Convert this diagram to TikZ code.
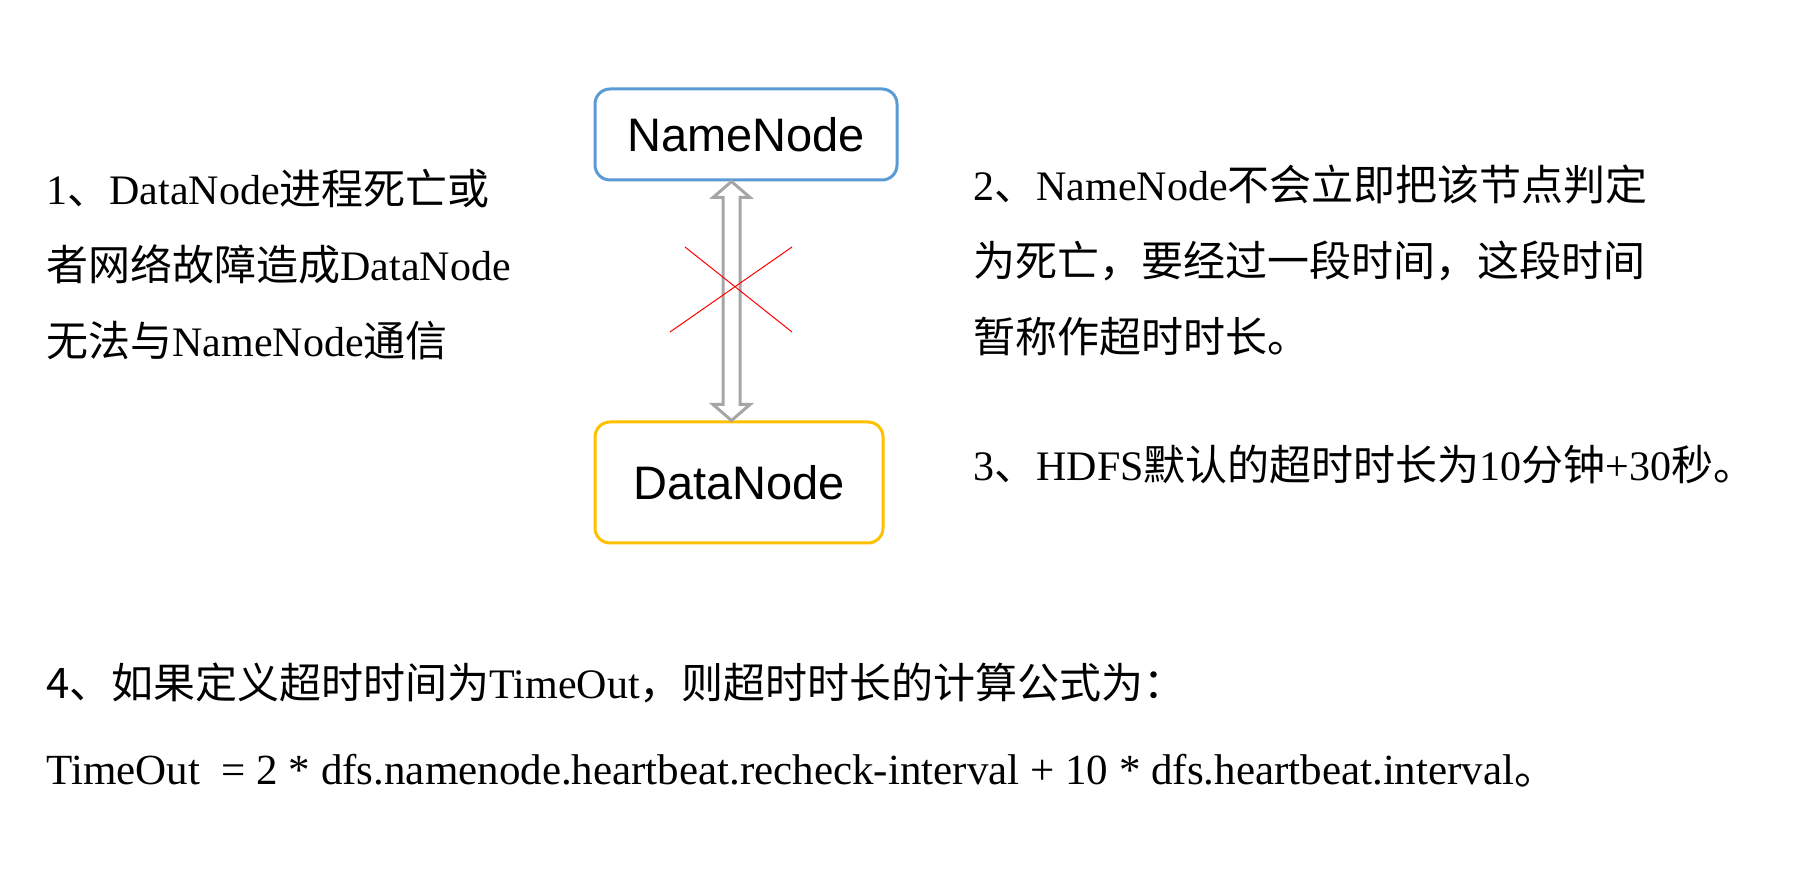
\documentclass[tikz,border=0pt]{standalone}
\usepackage{fontspec}
\setmainfont{Liberation Serif}
\newfontfamily\cjk{Noto Sans CJK SC}
\newfontfamily\arial{Liberation Sans}
\newcommand{\zh}[1]{{\cjk #1}}
\usetikzlibrary{calc}
\definecolor{nnblue}{HTML}{5B9BD5}
\definecolor{dngold}{HTML}{FFC000}
\definecolor{arrowgray}{HTML}{A6A6A6}
\tikzstyle{namebox} = [rectangle, rounded corners=7.5pt, line width=1.5pt, draw=nnblue, minimum width=151pt, minimum height=45.5pt, font=\arial\fontsize{23.5pt}{28pt}\selectfont]
\tikzstyle{databox} = [rectangle, rounded corners=7.5pt, line width=1.5pt, draw=dngold, minimum width=144pt, minimum height=60.5pt, font=\arial\fontsize{23.5pt}{28pt}\selectfont]
\tikzstyle{note} = [align=left, inner sep=0pt, font=\fontsize{21pt}{38pt}\selectfont]
\tikzstyle{blockarrow} = [draw=arrowgray, line width=1.5pt, fill=white, line join=miter]
\tikzstyle{cross} = [red, line width=0.5pt]

\begin{document}
\begin{tikzpicture}[x=0.5pt, y=-0.5pt]
\useasboundingbox (0,0) rectangle (1800,876);
\node (namenode) [namebox] at (746,134.5) {NameNode};
\node (datanode) [databox] at (739,482.5) {DataNode};
\coordinate (ax) at (731.5,0);
\draw [blockarrow] (namenode.south -| ax) -- ++(18.5,16) -- ++(-10,0) -- ($(datanode.north -| ax)+(8.5,-16)$) -- ++(10,0) -- (datanode.north -| ax) -- ++(-18.5,-16) -- ++(10,0) -- ($(namenode.south -| ax)+(-8.5,16)$) -- ++(-10,0) -- cycle;
\draw [cross] (685,247) -- (792,332);
\draw [cross] (670,332) -- (792,247);

\node (cause) [note, anchor=west] at (46,265) {1\zh{、}DataNode\zh{进程死亡或}\\ \zh{者网络故障造成}DataNode\\ \zh{无法与}NameNode\zh{通信}};
\node (delay) [note, anchor=west] at (973,260) {2\zh{、}NameNode\zh{不会立即把该节点判定}\\ \zh{为死亡，要经过一段时间，这段时间}\\ \zh{暂称作超时时长。}};
\node (default) [note, anchor=west] at (973,465) {3\zh{、}HDFS\zh{默认的超时时长为}10\zh{分钟}+30\zh{秒。}};
\node (define) [note, anchor=west] at (46,683) {\zh{4、如果定义超时时间为}TimeOut\zh{，则超时时长的计算公式为：}};
\node (formula) [note, anchor=west, font=\fontsize{21.5pt}{38pt}\selectfont] at (46,771) {TimeOut\ \ = 2 * dfs.namenode.heartbeat.recheck-interval + 10 * dfs.heartbeat.interval\zh{。}};
\end{tikzpicture}
\end{document}
